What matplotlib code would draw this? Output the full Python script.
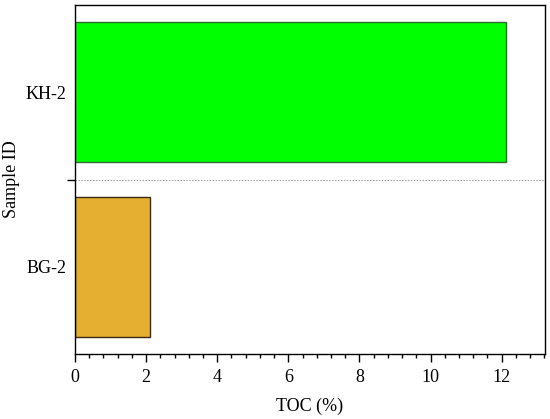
import matplotlib
matplotlib.use("Agg")
from matplotlib import pyplot as plt
from matplotlib.ticker import MultipleLocator

samples = ["BG-2", "KH-2"]
toc = [2.11, 12.12]
fill_colors = ["#E5B032", "#00FF00"]
edge_colors = ["#3a2a10", "#2f6b2f"]

plt.rcParams['font.family'] = ['Liberation Serif', 'DejaVu Serif']

fig = plt.figure(figsize=(5.5, 4.19), dpi=100)
ax = fig.add_axes([75 / 550, 1 - 354 / 419, 470 / 550, 349 / 419])

ax.barh(range(len(samples)), toc, height=0.8, color=fill_colors,
        edgecolor=edge_colors, linewidth=1.0, zorder=2)
ax.axhline(0.5, color='#999999', linestyle=(0, (1.5, 1.5)), linewidth=0.7, zorder=1)

ax.set_xlim(0, 13.22)
ax.set_ylim(-0.5, 1.5)
ax.xaxis.set_major_locator(MultipleLocator(2))
ax.xaxis.set_minor_locator(MultipleLocator(0.4))
ax.set_yticks(range(len(samples)))
ax.set_yticklabels(samples)
ax.set_yticks([0.5], minor=True)

ax.tick_params(axis='x', which='major', direction='out', length=6, width=1, labelsize=13, pad=5)
ax.tick_params(axis='x', which='minor', direction='out', length=3, width=1)
ax.tick_params(axis='y', which='major', length=0, labelsize=13, pad=6)
ax.tick_params(axis='y', which='minor', direction='out', length=6, width=1)

for s in ax.spines.values():
    s.set_linewidth(1.0)

ax.set_xlabel('TOC (%)', fontsize=13, labelpad=8)
ax.set_ylabel('Sample ID', fontsize=13, labelpad=4)

fig.savefig('out.png', dpi=100)
